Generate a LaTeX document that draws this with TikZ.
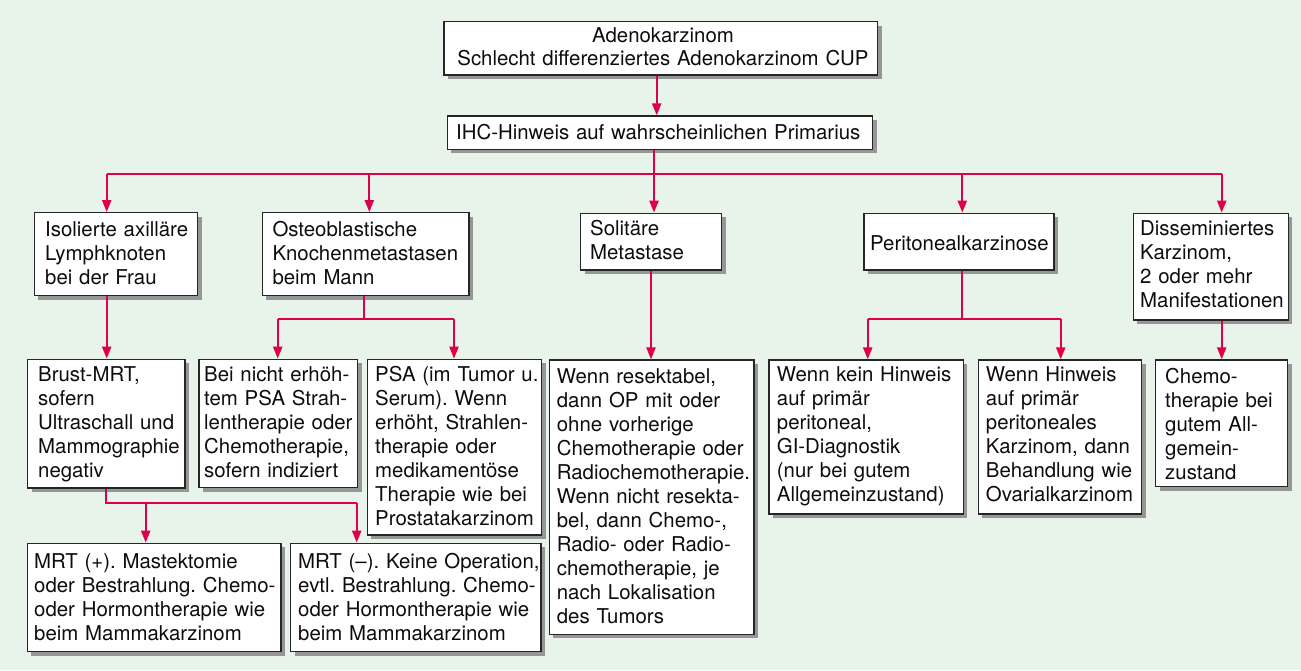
\documentclass[tikz,border=0pt]{standalone}
\usepackage{fontspec}
\setmainfont{TeX Gyre Heros}
\usetikzlibrary{arrows.meta,shadows,fit}
\definecolor{bgc}{RGB}{232,243,234}
\definecolor{redc}{RGB}{222,0,76}
\definecolor{shc}{RGB}{150,150,150}
\frenchspacing
\tikzset{
  bx/.style={draw=black!85,line width=1.3pt,fill=white,inner sep=0pt,rectangle,
    drop shadow={shadow xshift=4pt,shadow yshift=-4pt,fill=shc,opacity=1}},
  txt/.style={inner sep=0pt,anchor=base west,text width=500pt,align=left,
    font=\fontsize{20.4}{24}\selectfont\frenchspacing,text=black!95},
  ln/.style={draw=redc,line width=2.2pt},
  arr/.style={ln,-{Triangle[length=12pt,width=9pt]}}
}
\begin{document}
\begin{tikzpicture}[x=1pt,y=-1pt]
\fill[bgc] (0,0) rectangle (1301,670);
\useasboundingbox (0,0) rectangle (1301,670);
% boxes
\node[bx,fit={(444,21.7) (877.7,75)}] (top) {};
\node[bx,fit={(447.3,116) (872.7,149.3)}] (ihc) {};
\node[bx,fit={(34.3,212.7) (197.7,295.7)}] (b1) {};
\node[bx,fit={(262.3,212.7) (469,295.7)}] (b2) {};
\node[bx,fit={(580.7,213.3) (721.7,270)}] (b3) {};
\node[bx,fit={(864,213.3) (1054,270)}] (b4) {};
\node[bx,fit={(1133.3,213.3) (1288.3,320)}] (b5) {};
\node[bx,fit={(27.7,359.3) (185,488)}] (brust) {};
\node[bx,fit={(199,359.3) (357.7,487.7)}] (bei) {};
\node[bx,fit={(367.3,359.3) (541.7,535)}] (psa) {};
\node[bx,fit={(549.3,360) (754,634.3)}] (res) {};
\node[bx,fit={(769,360) (963.3,514)}] (kein) {};
\node[bx,fit={(978.3,360) (1141.7,514)}] (hin) {};
\node[bx,fit={(1155.7,360) (1287.7,486.7)}] (chemo) {};
\node[bx,fit={(27.3,543.3) (281,651.7)}] (mrtp) {};
\node[bx,fit={(290.7,543.3) (541,651.7)}] (mrtm) {};
% texts
\node[txt,anchor=base,text width=430pt,align=center,font=\fontsize{20.4}{22.7}\selectfont] (ttop) at (663,42.3) {Adenokarzinom\\Schlecht differenziertes Adenokarzinom CUP};
\node[txt] (tihc) at (456,139.3) {IHC-Hinweis auf wahrscheinlichen Primarius};
\node[txt] (tb1) at (45,236) {Isolierte axilläre\\Lymphknoten\\bei der Frau};
\node[txt] (tb2) at (272.3,236) {Osteoblastische\\Knochenmetastasen\\beim Mann};
\node[txt] (tb3) at (590,235) {Solitäre\\Metastase};
\node[txt] (tb4) at (870,250) {Peritonealkarzinose};
\node[txt] (tb5) at (1140,235) {Disseminiertes\\Karzinom,\\2 oder mehr\\Manifestationen};
\node[txt] (tbrust) at (38,381.7) {Brust-MRT,\\sofern\\Ultraschall und\\Mammographie\\negativ};
\node[txt] (tbei) at (204,381.7) {Bei nicht erhöh-\\tem PSA Strah-\\lentherapie oder\\Chemotherapie,\\sofern indiziert};
\node[txt] (tpsa) at (375,381.7) {PSA (im Tumor u.\\Serum). Wenn\\erhöht, Strahlen-\\therapie oder\\medikamentöse\\Therapie wie bei\\Prostatakarzinom};
\node[txt] (tres) at (556.7,383.3) {Wenn resektabel,\\dann OP mit oder\\ohne vorherige\\Chemotherapie oder\\Radiochemotherapie.\\Wenn nicht resekta-\\bel, dann Chemo-,\\Radio- oder Radio-\\chemotherapie, je\\nach Lokalisation\\des Tumors};
\node[txt] (tkein) at (776.7,381.7) {Wenn kein Hinweis\\auf primär\\peritoneal,\\GI-Diagnostik\\(nur bei gutem\\Allgemeinzustand)};
\node[txt] (thin) at (985.7,381.7) {Wenn Hinweis\\auf primär\\peritoneales\\Karzinom, dann\\Behandlung wie\\Ovarialkarzinom};
\node[txt] (tchemo) at (1165,383) {Chemo-\\therapie bei\\gutem All-\\gemein-\\zustand};
\node[txt] (tmrtp) at (34,568.3) {MRT (+). Mastektomie\\oder Bestrahlung. Chemo-\\oder Hormontherapie wie\\beim Mammakarzinom};
\node[txt] (tmrtm) at (298,568.3) {MRT (–). Keine Operation,\\evtl. Bestrahlung. Chemo-\\oder Hormontherapie wie\\beim Mammakarzinom};
% connector coordinates
\coordinate (x0) at (656.7,0);
\coordinate (xc) at (654,0);
\coordinate (x1) at (106.7,0);
\coordinate (x2) at (369.3,0);
\coordinate (x4) at (962.3,0);
\coordinate (x5) at (1221.7,0);
\coordinate (bus) at (0,174.3);
\coordinate (o2) at (364,0);
\coordinate (o2a) at (277.7,0);
\coordinate (o2b) at (454,0);
\coordinate (bus2) at (0,319.3);
\coordinate (xs) at (651,0);
\coordinate (o4a) at (867.7,0);
\coordinate (o4b) at (1060.7,0);
\coordinate (xb) at (106,0);
\coordinate (o1a) at (145.7,0);
\coordinate (o1b) at (356.7,0);
\coordinate (bus3) at (0,503.3);
% connectors
\draw[arr] (top.south -| x0) -- (ihc.north -| x0);
\draw[ln] (ihc.south -| xc) -- (bus -| xc);
\draw[ln] (bus -| x1) -- (bus -| x5);
\draw[arr] (bus -| x1) -- (b1.north -| x1);
\draw[arr] (bus -| x2) -- (b2.north -| x2);
\draw[arr] (bus -| xc) -- (b3.north -| xc);
\draw[arr] (bus -| x4) -- (b4.north -| x4);
\draw[arr] (bus -| x5) -- (b5.north -| x5);
\draw[arr] (b1.south -| x1) -- (brust.north -| x1);
\draw[ln] (b2.south -| o2) -- (bus2 -| o2);
\draw[ln] (bus2 -| o2a) -- (bus2 -| o2b);
\draw[arr] (bus2 -| o2a) -- (bei.north -| o2a);
\draw[arr] (bus2 -| o2b) -- (psa.north -| o2b);
\draw[arr] (b3.south -| xs) -- (res.north -| xs);
\draw[ln] (b4.south -| x4) -- (bus2 -| x4);
\draw[ln] (bus2 -| o4a) -- (bus2 -| o4b);
\draw[arr] (bus2 -| o4a) -- (kein.north -| o4a);
\draw[arr] (bus2 -| o4b) -- (hin.north -| o4b);
\draw[arr] (b5.south -| x5) -- (chemo.north -| x5);
\draw[ln] (brust.south -| xb) -- (bus3 -| xb) -- (bus3 -| o1b);
\draw[arr] (bus3 -| o1a) -- (mrtp.north -| o1a);
\draw[arr] (bus3 -| o1b) -- (mrtm.north -| o1b);
\end{tikzpicture}
\end{document}
